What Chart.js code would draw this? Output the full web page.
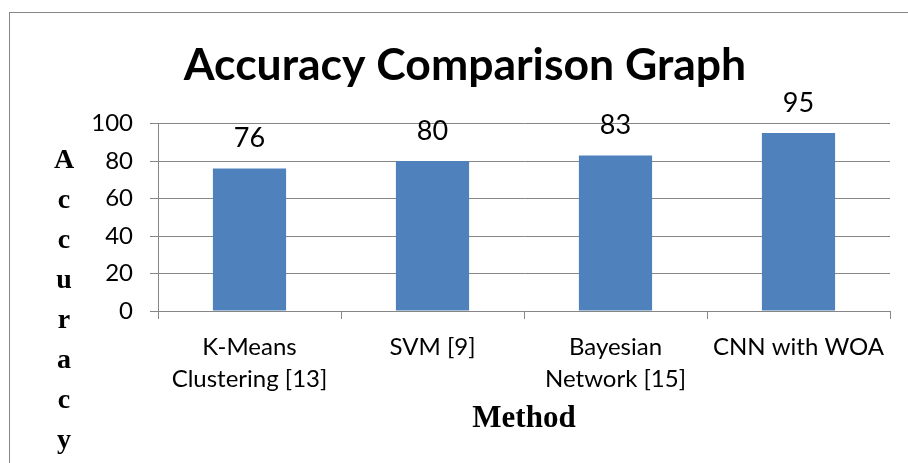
<!DOCTYPE html>
<html>
<head>
<meta charset="utf-8">
<script src="https://cdn.jsdelivr.net/npm/chart.js@4.4.0/dist/chart.umd.min.js"></script>
<style>
  html, body { margin: 0; padding: 0; background: #ffffff; }
  #wrap { width: 908px; height: 463px; position: relative; }
  canvas { display: block; }
</style>
</head>
<body>
<div id="wrap"><canvas id="c" width="908" height="463"></canvas></div>
<script>
// ---- data ----
const categories = [["K-Means", "Clustering [13]"], "SVM [9]", ["Bayesian", "Network [15]"], "CNN with WOA"];
const accuracy = [76, 80, 83, 95];
const yTickValues = [0, 20, 40, 60, 80, 100];
const chartTitle = "Accuracy Comparison Graph";
const xTitle = "Method";
const yTitleLetters = ["A", "c", "c", "u", "r", "a", "c", "y"];

const GRID = "#868686";
const BAR = "#4F81BD";
const SANS = "Lato, 'Open Sans', sans-serif";
const SERIF = "'Liberation Serif', 'DejaVu Serif', serif";

// frame of the chart object (its right/bottom edges lie outside the picture)
const FRAME = { left: 9.5, top: 12.5, width: 911 };

const framePlugin = {
  id: "frame",
  beforeDraw(chart) {
    const ctx = chart.ctx;
    ctx.save();
    ctx.fillStyle = "#ffffff";
    ctx.fillRect(0, 0, chart.width, chart.height);
    ctx.strokeStyle = GRID;
    ctx.lineWidth = 1;
    ctx.strokeRect(FRAME.left, FRAME.top, FRAME.width, chart.height + 10);
    ctx.restore();
  }
};

const titlePlugin = {
  id: "frameTitle",
  afterDraw(chart) {
    const ctx = chart.ctx;
    ctx.save();
    ctx.font = "bold 44.5px " + SANS;
    ctx.fillStyle = "#000";
    ctx.textAlign = "center";
    ctx.textBaseline = "middle";
    ctx.fillText(chartTitle, FRAME.left + FRAME.width / 2, 66);
    ctx.restore();
  }
};

const valueLabels = {
  id: "valueLabels",
  afterDatasetsDraw(chart) {
    const ctx = chart.ctx;
    const meta = chart.getDatasetMeta(0);
    ctx.save();
    ctx.font = "27px " + SANS;
    ctx.fillStyle = "#000";
    ctx.textAlign = "center";
    ctx.textBaseline = "middle";
    meta.data.forEach((bar, i) => {
      ctx.fillText(String(chart.data.datasets[0].data[i]), bar.x, bar.y - 30);
    });
    ctx.restore();
  }
};

const stackedYTitle = {
  id: "stackedYTitle",
  afterDraw(chart) {
    const ctx = chart.ctx;
    const area = chart.chartArea;
    ctx.save();
    ctx.font = "bold 28px " + SERIF;
    ctx.fillStyle = "#000";
    ctx.textAlign = "center";
    ctx.textBaseline = "alphabetic";
    yTitleLetters.forEach((ch, i) => {
      ctx.fillText(ch, 64, area.top + 44 + i * 40);
    });
    ctx.restore();
  }
};

new Chart(document.getElementById("c"), {
  type: "bar",
  data: {
    labels: categories,
    datasets: [{
      label: "Accuracy",
      data: accuracy,
      backgroundColor: BAR,
      borderWidth: 0,
      categoryPercentage: 1.0,
      barPercentage: 0.4
    }]
  },
  options: {
    responsive: false,
    devicePixelRatio: 1,
    animation: false,
    layout: { padding: { left: 0, right: 18, top: 123.5, bottom: 0 } },
    plugins: {
      legend: { display: false },
      tooltip: { enabled: false },
      title: { display: false }
    },
    scales: {
      y: {
        min: 0,
        max: 100,
        afterBuildTicks(scale) { scale.ticks = yTickValues.map(v => ({ value: v })); },
        afterFit(scale) { scale.width = 158; },
        ticks: { color: "#000", font: { family: SANS, size: 24 }, padding: 17 },
        grid: { color: GRID, tickLength: 8, lineWidth: 1 },
        border: { color: GRID, width: 1 }
      },
      x: {
        afterFit(scale) { scale.height = 152; },
        ticks: { color: "#000", font: { family: SANS, size: 24, lineHeight: 1.35 }, padding: 12, maxRotation: 0, autoSkip: false },
        grid: { offset: true, drawOnChartArea: false, color: GRID, tickLength: 8 },
        border: { color: GRID, width: 1 },
        title: {
          display: true,
          text: xTitle,
          color: "#000",
          font: { family: SERIF, weight: "bold", size: 31, lineHeight: 1.2 },
          padding: { top: 0, bottom: 25 }
        }
      }
    }
  },
  plugins: [framePlugin, valueLabels, stackedYTitle, titlePlugin]
});
</script>
</body>
</html>
